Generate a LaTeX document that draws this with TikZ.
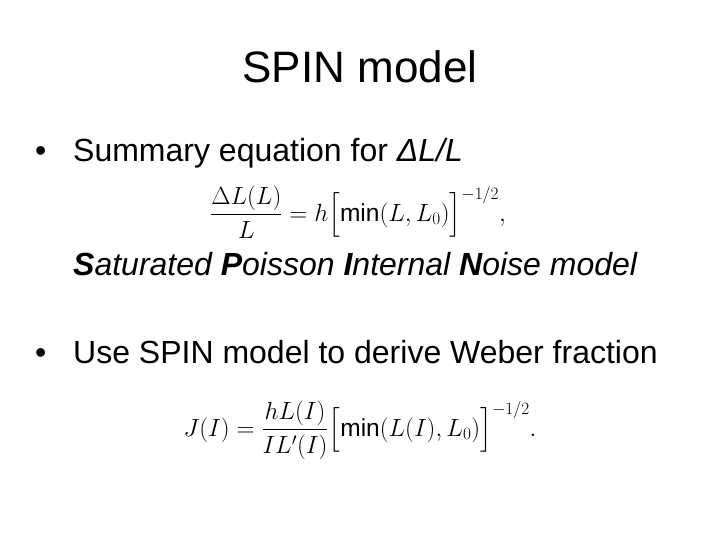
\documentclass[tikz,border=0pt]{standalone}
\usepackage{fontspec}
\setmainfont{Liberation Sans}
\usepackage{amsmath}
\begin{document}
\begin{tikzpicture}[x=1pt,y=-1pt,
  txt/.style={inner sep=0pt,anchor=base west,font=\fontsize{32}{36}\selectfont},
  eq/.style={inner sep=0pt,font=\fontsize{24.5}{28}\selectfont}]
\useasboundingbox[fill=white] (0,0) rectangle (720,540);
\node[inner sep=0pt,anchor=base,font=\fontsize{44}{50}\selectfont] (title) at (360,83) {SPIN model};
\node[txt] (b1d) at (35,162) {•};
\node[txt] (b1) at (73,162) {Summary equation for \textit{ΔL/L}};
\node[eq] (e1) at (358,212) {$\dfrac{\Delta L(L)}{L}=h\Bigl[\mathrm{min}(L,L_0)\Bigr]^{-1/2},$};
\node[txt] (sp) at (73,275) {\textit{\textbf{S}aturated \textbf{P}oisson \textbf{I}nternal \textbf{N}oise model}};
\node[txt] (b2d) at (35,363) {•};
\node[txt] (b2) at (73,363) {Use SPIN model to derive Weber fraction};
\node[eq] (e2) at (360,430) {$J(I)=\dfrac{hL(I)}{IL'(I)}\Bigl[\mathrm{min}(L(I),L_0)\Bigr]^{-1/2}.$};
\end{tikzpicture}
\end{document}
